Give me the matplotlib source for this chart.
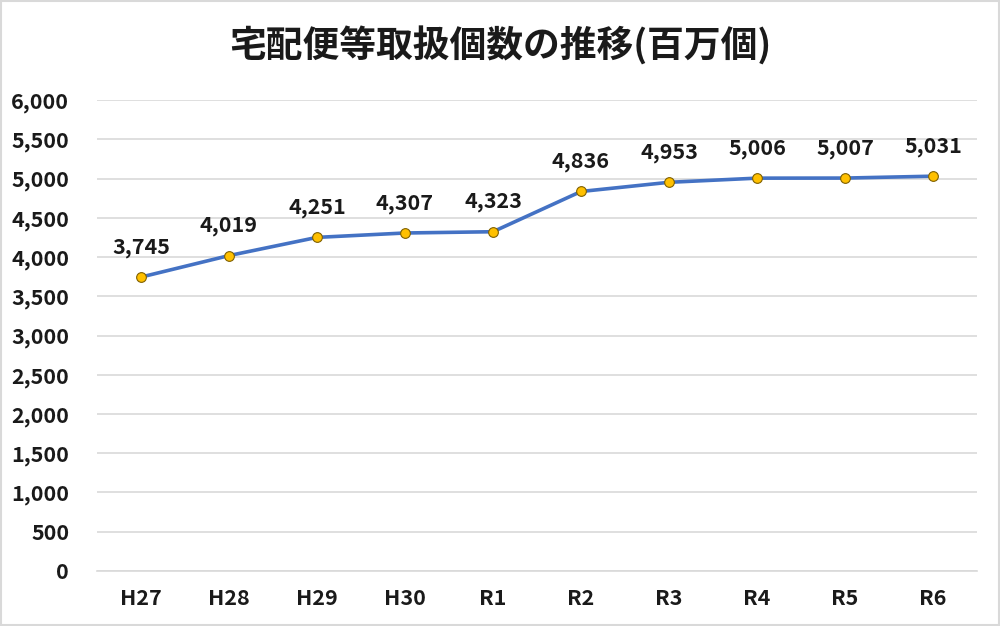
import matplotlib
matplotlib.use("Agg")
import matplotlib.pyplot as plt
from matplotlib.patches import Rectangle

plt.rcParams['font.family'] = ['Noto Sans CJK JP', 'DejaVu Sans']

# data
years = ["H27", "H28", "H29", "H30", "R1", "R2", "R3", "R4", "R5", "R6"]
counts = [3745, 4019, 4251, 4307, 4323, 4836, 4953, 5006, 5007, 5031]
yticks = [0, 500, 1000, 1500, 2000, 2500, 3000, 3500, 4000, 4500, 5000, 5500, 6000]

fig = plt.figure(figsize=(10, 6.26), dpi=100)
ax = fig.add_axes([0.097, 0.088, 0.88, 0.752])

# light frame around the whole picture
fig.patches.append(Rectangle((0.001, 0.001), 0.998, 0.998, transform=fig.transFigure,
                             fill=False, edgecolor="#d9d9d9", linewidth=1.5))

x = list(range(len(years)))
ax.plot(x, counts, color="#4472C4", linewidth=2.6, marker="o", markersize=7,
        markerfacecolor="#FFC000", markeredgecolor="#7f6000", markeredgewidth=0.8, zorder=3)

for xi, v in zip(x, counts):
    ax.annotate(f"{v:,}", (xi, v), xytext=(0, 14), textcoords="offset points",
                ha="center", va="bottom", fontsize=15.5, fontweight="bold", color="#1a1a1a")

ax.set_xlim(-0.5, len(years) - 0.5)
ax.set_ylim(0, 6000)
ax.set_yticks(yticks)
ax.set_yticklabels([f"{t:,}" for t in yticks])
ax.set_xticks(x)
ax.set_xticklabels(years)
ax.tick_params(length=0, labelsize=15.5, pad=12, colors="#1a1a1a")
ax.tick_params(axis="y", pad=20)
for lab in ax.get_xticklabels() + ax.get_yticklabels():
    lab.set_fontweight("bold")

ax.grid(axis="y", color="#d9d9d9", linewidth=1.2)
ax.set_axisbelow(True)
for s in ["top", "right", "left"]:
    ax.spines[s].set_visible(False)
ax.spines["bottom"].set_color("#d9d9d9")
ax.spines["bottom"].set_linewidth(1.2)

fig.text(0.5, 0.927, "宅配便等取扱個数の推移(百万個)", ha="center", va="center",
         fontsize=26.5, fontweight="bold", color="#1a1a1a")

fig.savefig("out.png", dpi=100)
